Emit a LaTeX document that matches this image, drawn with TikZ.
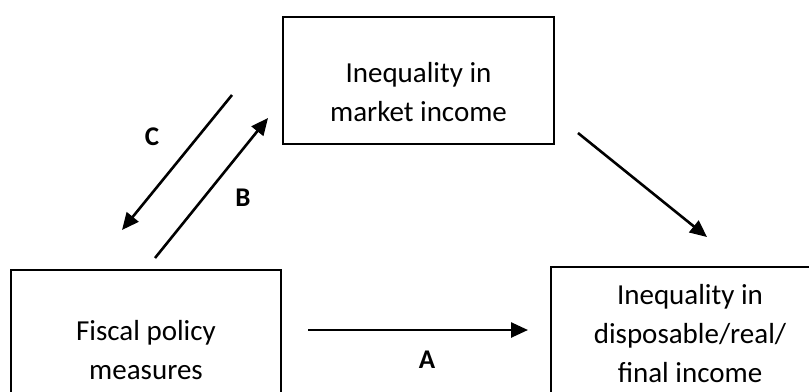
\documentclass[tikz,border=0pt]{standalone}
\usepackage{fontspec}
\setmainfont{Carlito}
\usetikzlibrary{arrows.meta}

\begin{document}
\begin{tikzpicture}[
    x=1bp, y=-1bp,
    mybox/.style={draw, line width=1.75bp, inner sep=0pt},
    mytext/.style={align=center, font=\fontsize{29bp}{39bp}\selectfont},
    myarrow/.style={-{Triangle[length=17bp, width=15bp]}, line width=2.6bp},
    mylabel/.style={font=\fontsize{27bp}{32bp}\selectfont\bfseries}
]
    \clip (0,0) rectangle (809,391);

    % Boxes
    \node[mybox, minimum width=271bp, minimum height=127bp] (market) at (418.5,80.5) {};
    \node[mybox, minimum width=270bp, minimum height=160bp] (fiscal) at (146,350) {};
    \node[mybox, minimum width=271bp, minimum height=160bp] (final) at (686.5,347) {};

    % Box texts
    \node[mytext] (markettxt) at (418.5,92) {Inequality in\\market income};
    \node[mytext] (fiscaltxt) at (146,350) {Fiscal policy\\measures};
    \node[mytext] (finaltxt) at (690,333.5) {Inequality in\\disposable/real/\\final income};

    % Arrow ends
    \coordinate (cStart) at (232,95);
    \coordinate (cEnd) at (122,230);
    \coordinate (bStart) at (155,258);
    \coordinate (bEnd) at (268,118);
    \coordinate (aStart) at (308,330);
    \coordinate (aEnd) at (528,330);
    \coordinate (dStart) at (578,133);
    \coordinate (dEnd) at (707,237);

    % Arrows
    \draw[myarrow] (cStart) -- (cEnd);
    \draw[myarrow] (bStart) -- (bEnd);
    \draw[myarrow] (aStart) -- (aEnd);
    \draw[myarrow] (dStart) -- (dEnd);

    % Labels
    \node[mylabel] (labC) at (152,137) {C};
    \node[mylabel] (labB) at (243,198) {B};
    \node[mylabel] (labA) at (427,360) {A};
\end{tikzpicture}
\end{document}
